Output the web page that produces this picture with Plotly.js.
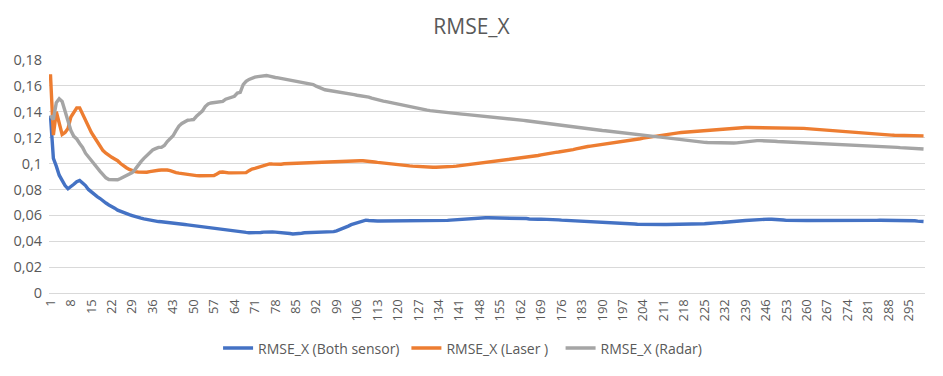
<!DOCTYPE html>
<html>
<head>
<meta charset="utf-8">
<script src="https://cdn.plot.ly/plotly-3.0.1.min.js"></script>
<style>html,body{margin:0;padding:0;background:#fff;}#chart{width:943px;height:376px;}</style>
</head>
<body>
<div id="chart"></div>
<script>
const chartTitle = "RMSE_X";
const seriesNames = ["RMSE_X (Both sensor)", "RMSE_X (Laser )", "RMSE_X (Radar)"];

const bothSensor = [
0.137,0.104,0.098,0.091,0.087,0.083,0.0805,0.082,0.084,0.086,
0.087,0.085,0.083,0.080,0.078,0.076,0.0745,0.073,0.071,0.0695,
0.068,0.067,0.0655,0.064,0.063,0.062,0.0615,0.0605,0.0598,0.059,
0.0583,0.0578,0.0573,0.0568,0.0565,0.056,0.0555,0.0552,0.055,0.0548,
0.0546,0.0545,0.0543,0.054,0.0535,0.0532,0.0529,0.0526,0.0523,0.052,
0.0516,0.0513,0.051,0.0506,0.0502,0.0499,0.0496,0.0492,0.049,0.0487,
0.0485,0.0483,0.0481,0.0478,0.0475,0.0472,0.047,0.0468,0.0466,0.0465,
0.0465,0.0465,0.0467,0.047,0.0472,0.0472,0.0471,0.047,0.0469,0.0467,
0.0465,0.0462,0.046,0.0456,0.0456,0.0459,0.0462,0.0465,0.0466,0.0465,
0.0463,0.0465,0.0468,0.047,0.047,0.0471,0.0472,0.0474,0.048,0.0488,
0.0497,0.0506,0.0517,0.0528,0.0536,0.0543,0.0552,0.056,0.0563,0.056,
0.0557,0.0557,0.0556,0.0556,0.0556,0.0557,0.0557,0.0557,0.0556,0.0556,
0.0556,0.0557,0.0557,0.0557,0.0557,0.0556,0.0556,0.0557,0.0557,0.0557,
0.0557,0.0557,0.0558,0.0558,0.0559,0.056,0.0561,0.0563,0.0565,0.0567,
0.0568,0.057,0.0572,0.0574,0.0576,0.0578,0.058,0.058,0.0581,0.0581,
0.0581,0.0581,0.058,0.058,0.058,0.058,0.058,0.0581,0.0581,0.058,
0.058,0.058,0.0578,0.0575,0.0572,0.057,0.057,0.057,0.0571,0.0571,
0.057,0.057,0.0569,0.0567,0.0565,0.0563,0.0562,0.0562,0.0561,0.056,
0.0558,0.0557,0.0556,0.0555,0.0555,0.0554,0.0552,0.0551,0.055,0.055,
0.0549,0.0547,0.0545,0.0543,0.0541,0.054,0.0539,0.0538,0.0537,0.0535,
0.0533,0.0531,0.053,0.053,0.0529,0.0529,0.0529,0.0529,0.0529,0.0529,
0.0529,0.0529,0.0529,0.0529,0.0529,0.0529,0.0529,0.0529,0.0529,0.0529,
0.0529,0.053,0.0531,0.0533,0.0535,0.0537,0.054,0.0542,0.0543,0.0544,
0.0545,0.0546,0.0548,0.055,0.0552,0.0554,0.0556,0.0558,0.056,0.0562,
0.0564,0.0566,0.0568,0.057,0.057,0.0571,0.0571,0.057,0.057,0.0569,
0.0567,0.0564,0.0561,0.056,0.056,0.056,0.056,0.056,0.056,0.056,
0.056,0.056,0.0559,0.0557,0.0556,0.0555,0.0555,0.0555,0.0555,0.0555,
0.0555,0.0555,0.0555,0.0555,0.0555,0.0555,0.0555,0.0555,0.0555,0.0556,
0.0557,0.0558,0.056,0.0561,0.0562,0.0562,0.0562,0.0562,0.0562,0.0562,
0.0562,0.0562,0.0562,0.0562,0.0562,0.0561,0.0558,0.0555,0.0553,0.0552
];

const laser = [
0.169,0.122,0.140,0.131,0.1225,0.124,0.127,0.136,0.139,0.143,
0.143,0.138,0.133,0.128,0.124,0.1205,0.117,0.1135,0.110,0.108,
0.1062,0.1048,0.1035,0.1022,0.100,0.098,0.0968,0.0955,0.0945,0.0938,
0.0935,0.0933,0.0933,0.0933,0.0938,0.0943,0.0946,0.0948,0.095,0.0953,
0.095,0.0945,0.0935,0.093,0.0926,0.0922,0.0918,0.0915,0.0912,0.091,
0.0907,0.0906,0.0906,0.0906,0.0906,0.0907,0.0908,0.092,0.0933,0.0935,
0.093,0.0928,0.0928,0.0928,0.0928,0.0928,0.0929,0.093,0.0945,0.0958,
0.0963,0.097,0.0975,0.0988,0.0995,0.0997,0.0996,0.0994,0.0992,0.0995,
0.0998,0.0999,0.0999,0.1,0.1002,0.1004,0.1006,0.1008,0.101,0.101,
0.1011,0.1012,0.1013,0.1014,0.1014,0.1015,0.1015,0.1015,0.1016,0.1017,
0.1019,0.102,0.1022,0.1023,0.1023,0.1023,0.1022,0.1022,0.1021,0.102,
0.1016,0.1012,0.1009,0.1006,0.1004,0.1,0.0998,0.0996,0.0994,0.0992,
0.099,0.0987,0.0984,0.0982,0.098,0.0978,0.0976,0.0975,0.0974,0.0973,
0.0972,0.0972,0.0972,0.0972,0.0973,0.0974,0.0975,0.0976,0.0978,0.098,
0.0983,0.0986,0.0989,0.0992,0.0995,0.0998,0.1,0.1002,0.1005,0.1007,
0.101,0.1012,0.1015,0.1017,0.102,0.1022,0.1025,0.1028,0.1032,0.1035,
0.1038,0.1041,0.1044,0.1047,0.105,0.1053,0.1057,0.1062,0.1067,0.1072,
0.1077,0.108,0.1083,0.1086,0.1089,0.1092,0.1094,0.1098,0.1103,0.1108,
0.1113,0.1119,0.1124,0.1128,0.1132,0.1135,0.1138,0.1141,0.1144,0.1147,
0.115,0.1153,0.1156,0.1159,0.1162,0.1165,0.1168,0.1172,0.1176,0.118,
0.1184,0.1188,0.1192,0.1196,0.12,0.1204,0.1208,0.1212,0.1216,0.1219,
0.1222,0.1225,0.1228,0.1231,0.1234,0.1237,0.124,0.1242,0.1244,0.1246,
0.1248,0.125,0.1252,0.1254,0.1256,0.1258,0.126,0.1262,0.1264,0.1266,
0.1268,0.127,0.1272,0.1273,0.1274,0.1275,0.1276,0.1277,0.1278,0.1278,
0.1278,0.1278,0.1278,0.1278,0.1278,0.1278,0.1278,0.1278,0.1278,0.1278,
0.1278,0.1278,0.1278,0.1278,0.1278,0.1278,0.1276,0.1274,0.1272,0.127,
0.1268,0.1266,0.1265,0.1263,0.1261,0.1259,0.1257,0.1255,0.1253,0.1251,
0.1249,0.1247,0.1245,0.1243,0.1241,0.1239,0.1238,0.1237,0.1236,0.1235,
0.1234,0.1233,0.1232,0.123,0.1228,0.1226,0.1224,0.1222,0.122,0.1219,
0.1218,0.1218,0.1217,0.1217,0.1216,0.1216,0.1215,0.1215,0.1214,0.1214
];

const radar = [
0.137,0.134,0.147,0.150,0.148,0.141,0.132,0.1255,0.121,0.119,
0.1155,0.1125,0.108,0.105,0.102,0.099,0.0965,0.094,0.0915,0.089,
0.0877,0.0878,0.088,0.0875,0.0885,0.0895,0.0905,0.0915,0.093,0.0955,
0.099,0.1015,0.104,0.106,0.108,0.1105,0.1115,0.1125,0.1125,0.114,
0.117,0.119,0.1215,0.1255,0.129,0.131,0.1325,0.1335,0.1337,0.134,
0.1365,0.1385,0.1405,0.144,0.146,0.1468,0.1472,0.1475,0.1478,0.148,
0.1497,0.1505,0.1508,0.152,0.1545,0.155,0.161,0.1635,0.165,0.166,
0.1668,0.1672,0.1676,0.1679,0.168,0.1676,0.1668,0.1665,0.1662,0.1658,
0.1654,0.165,0.1646,0.1642,0.1638,0.1634,0.1628,0.1622,0.1618,0.1614,
0.161,0.1598,0.1588,0.1578,0.157,0.1566,0.1563,0.156,0.1556,0.1553,
0.155,0.1546,0.1543,0.1538,0.1533,0.1528,0.1524,0.1522,0.152,0.1513,
0.1505,0.1498,0.1492,0.1486,0.1482,0.1478,0.1473,0.1468,0.1462,0.1458,
0.1454,0.145,0.1445,0.144,0.1436,0.1432,0.1428,0.1422,0.1417,0.1413,
0.1409,0.1406,0.1403,0.14,0.1398,0.1396,0.1394,0.1392,0.139,0.1387,
0.1384,0.1382,0.138,0.1378,0.1376,0.1374,0.1372,0.137,0.1367,0.1365,
0.1362,0.136,0.1358,0.1356,0.1354,0.1352,0.135,0.1348,0.1345,0.1342,
0.134,0.1337,0.1334,0.1331,0.1328,0.1325,0.1321,0.1318,0.1314,0.131,
0.1306,0.1303,0.13,0.1297,0.1294,0.1291,0.1288,0.1285,0.1283,0.128,
0.1278,0.1276,0.1273,0.1271,0.1268,0.1266,0.1263,0.126,0.1258,0.1255,
0.1253,0.125,0.1248,0.1245,0.1242,0.124,0.1237,0.1234,0.1231,0.1229,
0.1226,0.1224,0.1221,0.1219,0.1216,0.1214,0.1211,0.1209,0.1206,0.1204,
0.1201,0.1199,0.1196,0.1193,0.119,0.1187,0.1184,0.1181,0.1178,0.1175,
0.1172,0.117,0.1168,0.1166,0.1164,0.1163,0.1162,0.1161,0.116,0.116,
0.116,0.1159,0.1158,0.1158,0.1159,0.116,0.1163,0.1166,0.1169,0.1172,
0.1174,0.1176,0.1177,0.1177,0.1177,0.1176,0.1175,0.1174,0.1172,0.117,
0.1169,0.1168,0.1168,0.1168,0.1167,0.1166,0.1165,0.1164,0.1163,0.1162,
0.1161,0.116,0.1158,0.1157,0.1156,0.1155,0.1154,0.1153,0.1152,0.1151,
0.115,0.1149,0.1147,0.1145,0.1144,0.1143,0.1142,0.1141,0.114,0.1139,
0.1139,0.1138,0.1138,0.1137,0.1136,0.1135,0.1133,0.1131,0.1129,0.1127,
0.1125,0.1123,0.1121,0.1119,0.1117,0.1116,0.1115,0.1114,0.1113,0.1112
];

// category indices 1..300
const categories = bothSensor.map((_, i) => i + 1);

const xTickVals = [1,8,15,22,29,36,43,50,57,64,71,78,85,92,99,106,113,120,127,134,141,148,155,162,169,176,183,190,197,204,211,218,225,232,239,246,253,260,267,274,281,288,295];
const yTickVals = [0,0.02,0.04,0.06,0.08,0.1,0.12,0.14,0.16,0.18];
const yTickText = ["0","0,02","0,04","0,06","0,08","0,1","0,12","0,14","0,16","0,18"];

const colors = ["#4472C4", "#ED7D31", "#A5A5A5"];
const seriesValues = [bothSensor, laser, radar];
const legendIds = ["legend", "legend2", "legend3"];
const legendX = [0.193, 0.408, 0.584];

const traces = seriesValues.map((vals, k) => ({
  type: "scatter",
  mode: "lines",
  x: categories,
  y: vals,
  name: seriesNames[k],
  legend: legendIds[k],
  line: {color: colors[k], width: 3.4}
}));

const FONT = "'Open Sans', 'Liberation Sans', sans-serif";
const legendBase = (x) => ({
  orientation: "h", x: x, xanchor: "left", y: -0.238, yanchor: "middle",
  font: {family: FONT, size: 14, color: "#595959"}, itemwidth: 30,
  bgcolor: "rgba(0,0,0,0)", borderwidth: 0
});

const layout = {
  width: 943, height: 376,
  margin: {l: 49, r: 18, t: 60, b: 81},
  paper_bgcolor: "#ffffff",
  plot_bgcolor: "#ffffff",
  font: {family: FONT, color: "#595959", size: 12},
  title: {text: chartTitle, x: 0.5, xanchor: "center", y: 0.93, yanchor: "middle",
          font: {family: FONT, size: 21, color: "#595959"}},
  showlegend: true,
  legend: legendBase(legendX[0]),
  legend2: legendBase(legendX[1]),
  legend3: legendBase(legendX[2]),
  xaxis: {
    type: "linear", range: [0.5, 300.5], tickmode: "array", tickvals: xTickVals,
    ticktext: xTickVals.map(String), tickangle: -90, showgrid: false, zeroline: false,
    showline: true, linecolor: "#D9D9D9", linewidth: 1, ticks: "",
    tickfont: {family: FONT, size: 13, color: "#595959"}, fixedrange: true
  },
  yaxis: {
    range: [0, 0.18], tickmode: "array", tickvals: yTickVals, ticktext: yTickText,
    showgrid: true, gridcolor: "#D9D9D9", gridwidth: 1, zeroline: false, showline: false,
    ticks: "", ticklabelstandoff: 6, tickfont: {family: FONT, size: 14.5, color: "#595959"}, fixedrange: true
  }
};

Plotly.newPlot("chart", traces, layout, {displayModeBar: false, staticPlot: true});
</script>
</body>
</html>
